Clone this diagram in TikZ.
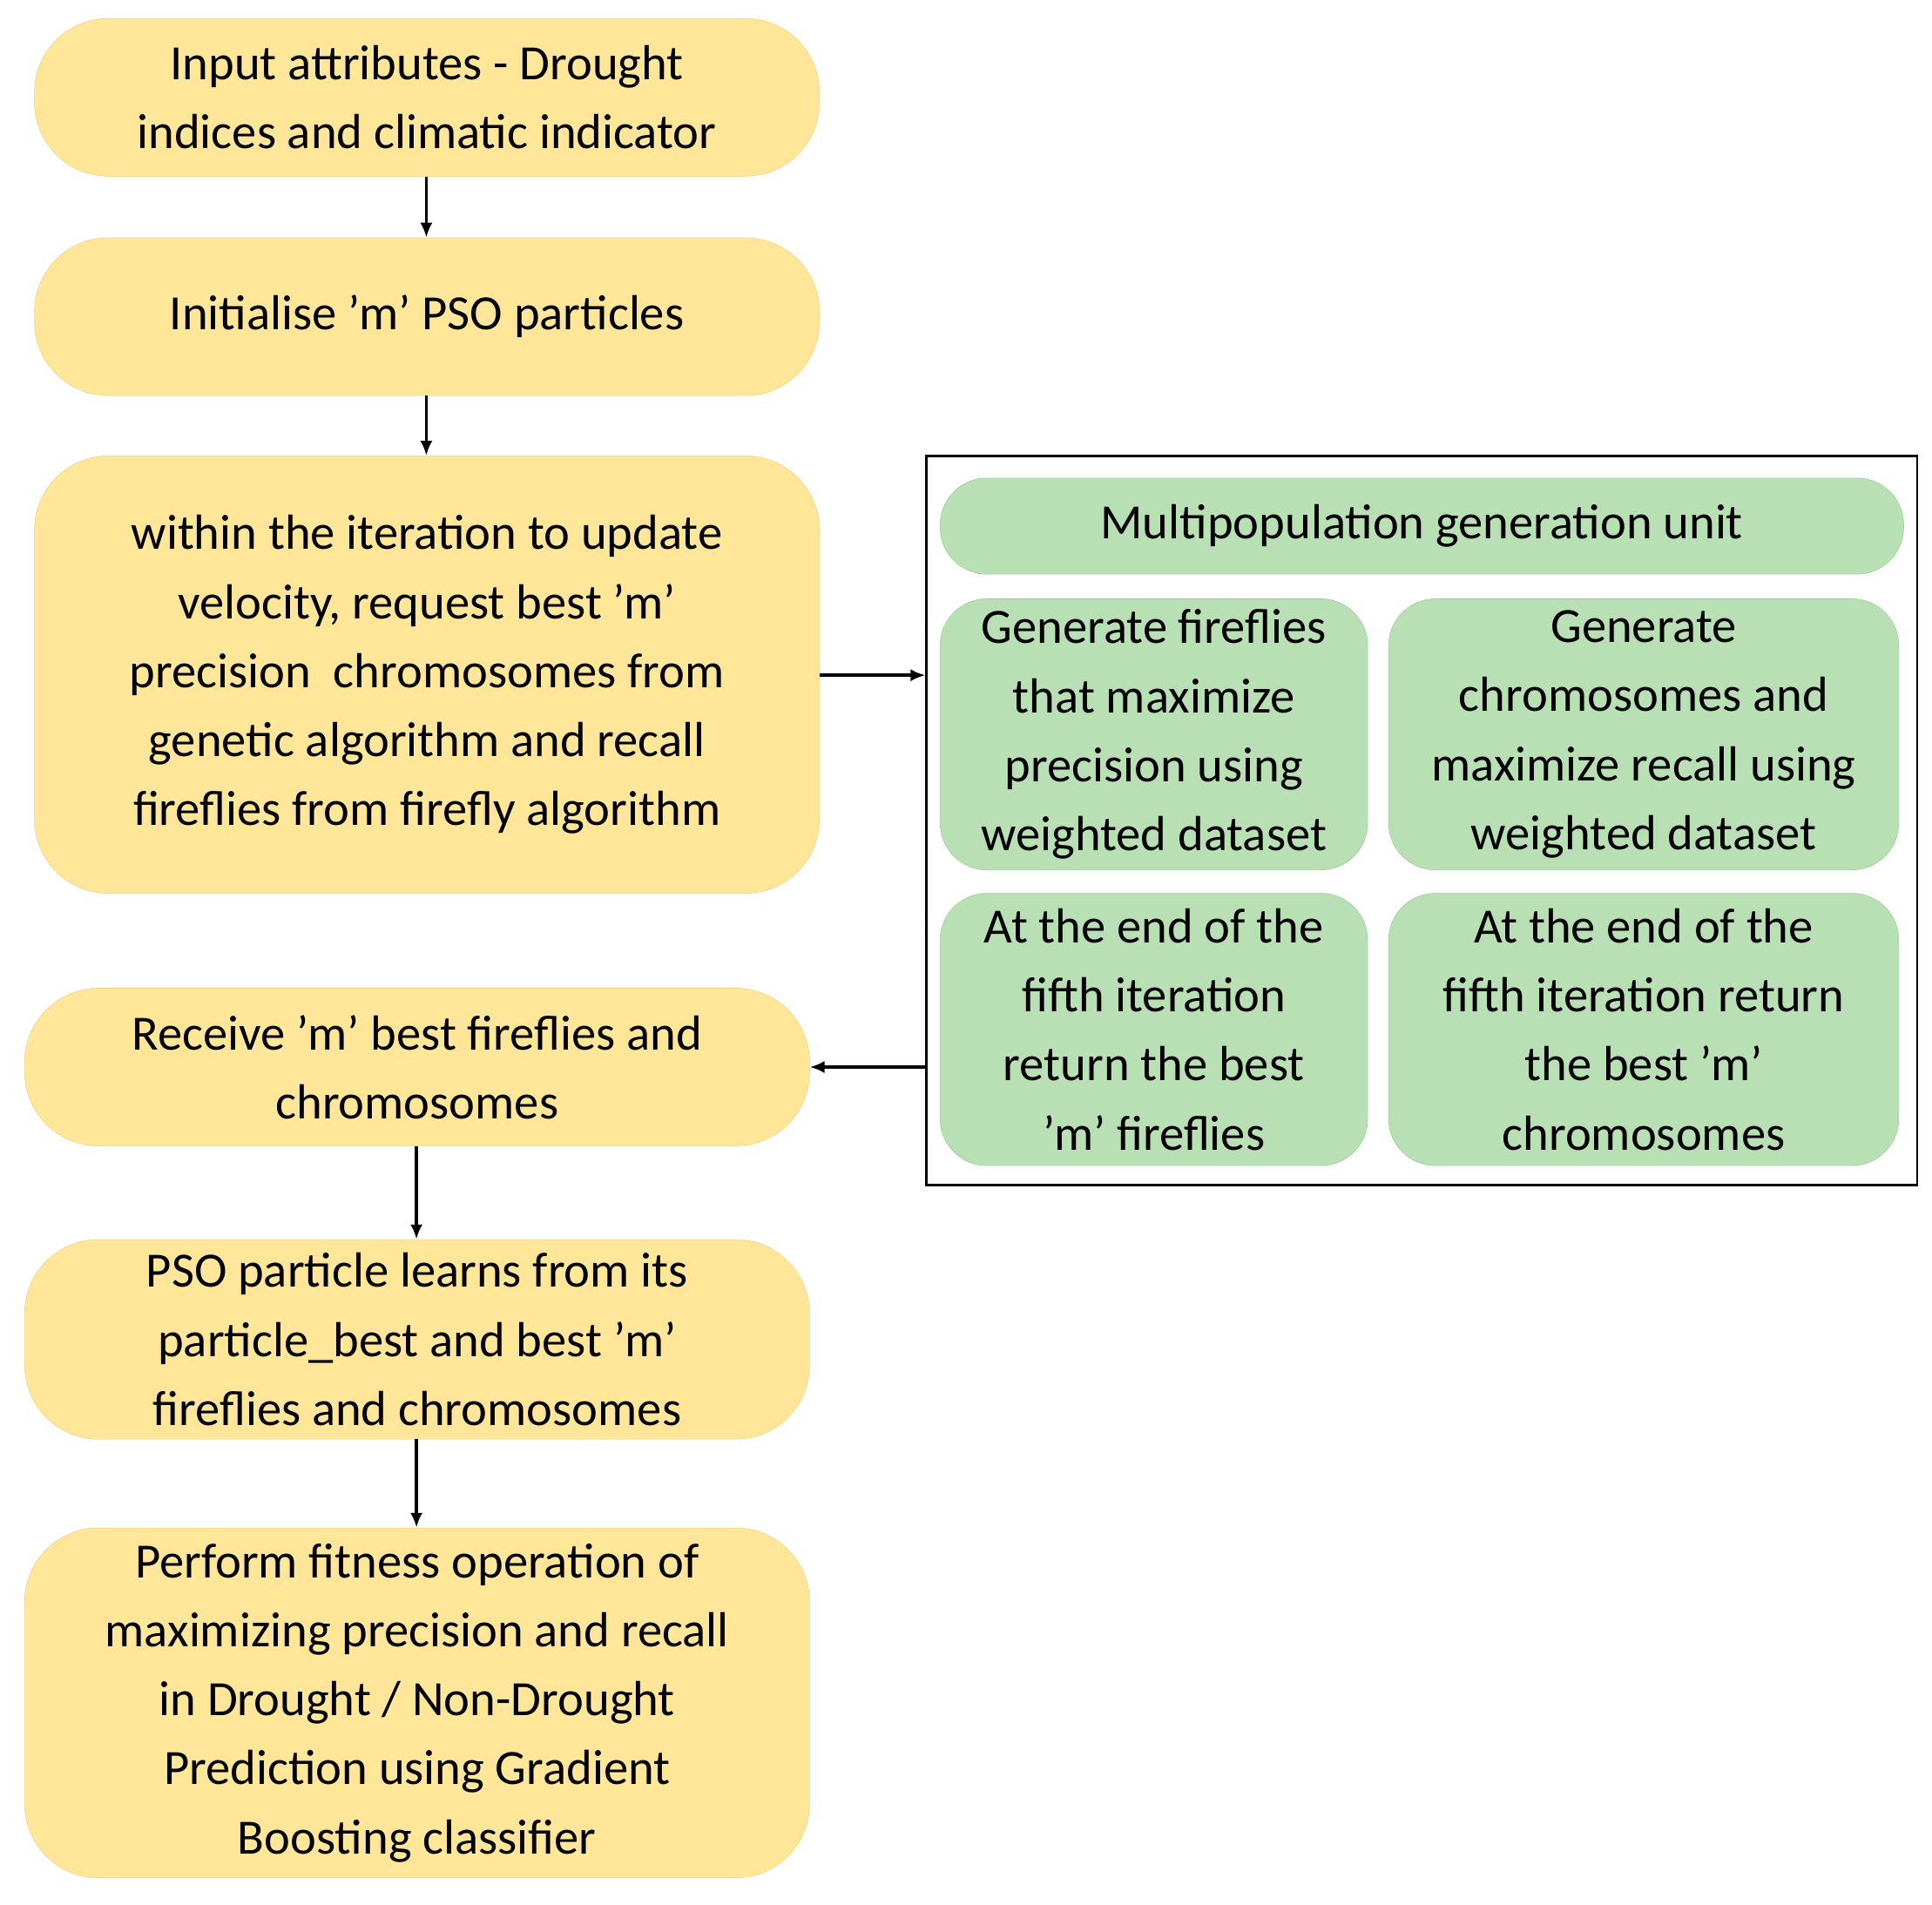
\documentclass[tikz,border=0pt]{standalone}
\usepackage{fontspec}
\setmainfont{Carlito}
\usetikzlibrary{arrows.meta}
\definecolor{yel}{HTML}{FFE699}
\definecolor{yelb}{HTML}{F2D27A}
\definecolor{grn}{HTML}{B9E0B4}
\definecolor{grnb}{HTML}{9CCB94}
\tikzset{
 ybox/.style={draw=yelb,fill=yel,rounded corners=60pt,align=center,inner sep=0pt,font=\fontsize{40}{56}\selectfont},
 gbox/.style={draw=grnb,fill=grn,rounded corners=38pt,align=center,inner sep=0pt,font=\fontsize{40}{56}\selectfont},
 arr/.style={-{Latex[length=12pt,width=10pt]},line width=2.5pt}
}
\newcommand{\bx}[7]{\node[#1,minimum width=#4pt-#3pt,minimum height=#6pt-#5pt] (#2) at ({(#3+#4)/2},{(#5+#6)/2}) {#7};}
\begin{document}
\begin{tikzpicture}[x=1pt,y=-1pt]
\useasboundingbox (0,0) rectangle (1568,1546);
\bx{ybox}{b1}{28}{665}{15}{143}{Input attributes - Drought\\indices and climatic indicator}
\bx{ybox}{b2}{28}{665}{193}{321}{Initialise 'm' PSO particles}
\bx{ybox}{b3}{28}{665}{370}{725}{within the iteration to update\\velocity, request best 'm'\\precision\ \ chromosomes from\\genetic algorithm and recall\\fireflies from firefly algorithm}
\bx{ybox}{b4}{20}{657}{802}{930}{Receive 'm' best fireflies and\\chromosomes}
\bx{ybox}{b5}{20}{657}{1006}{1168}{PSO particle learns from its\\particle\_best and best 'm'\\fireflies and chromosomes}
\bx{ybox}{b6}{20}{657}{1240}{1524}{Perform fitness operation of\\maximizing precision and recall\\in Drought / Non-Drought\\Prediction using Gradient\\Boosting classifier}
\node[draw,line width=2pt,minimum width=804pt,minimum height=592pt,inner sep=0pt] (fr) at (1154,666) {};
\bx{gbox}{t}{763}{1545}{388}{466}{Multipopulation generation unit}
\bx{gbox}{g1}{763}{1110}{486}{706}{Generate fireflies\\that maximize\\precision using\\weighted dataset}
\bx{gbox}{g2}{1127}{1541}{486}{706}{Generate\\chromosomes and\\maximize recall using\\weighted dataset}
\bx{gbox}{g3}{763}{1110}{725}{946}{At the end of the\\fifth iteration\\return the best\\'m' fireflies}
\bx{gbox}{g4}{1127}{1541}{725}{946}{At the end of the\\fifth iteration return\\the best 'm'\\chromosomes}
\draw[arr] (b1.south -| 346,0) -- (b2.north -| 346,0);
\draw[arr] (b2.south -| 346,0) -- (b3.north -| 346,0);
\draw[arr] (b3.east |- 0,548) -- (fr.west |- 0,548);
\draw[arr] (fr.west |- 0,866) -- (b4.east |- 0,866);
\draw[arr] (b4.south -| 338,0) -- (b5.north -| 338,0);
\draw[arr] (b5.south -| 338,0) -- (b6.north -| 338,0);
\end{tikzpicture}
\end{document}
